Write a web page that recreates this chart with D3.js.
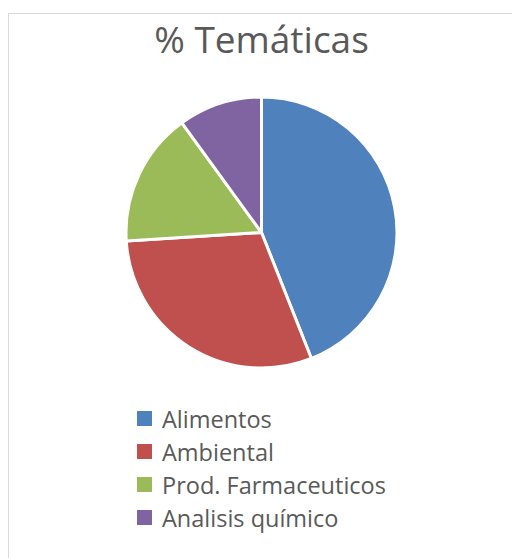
<!DOCTYPE html>
<html>
<head>
<meta charset="utf-8">
<script src="https://cdn.jsdelivr.net/npm/d3@7"></script>
<style>
  body { margin: 0; background: #fff; }
  svg { display: block; }
</style>
</head>
<body>
<div id="chart-area"></div>
<script>
// chart data
let categories = ["Alimentos", "Ambiental", "Prod. Farmaceuticos", "Analisis químico"];
let values = [22, 15, 8, 5];
let colors = ["#4F81BD", "#C0504D", "#9BBB59", "#8064A2"];
let title = "% Temáticas";

let width = 512, height = 558;

let svg = d3.select("#chart-area").append("svg")
    .attr("width", width)
    .attr("height", height);

// chart border
svg.append("rect")
    .attr("x", 8.5)
    .attr("y", 13.5)
    .attr("width", 520)
    .attr("height", 560)
    .attr("fill", "#fff")
    .attr("stroke", "#d9d9d9")
    .attr("stroke-width", 1);

// title
svg.append("text")
    .attr("x", 261.5)
    .attr("y", 53)
    .attr("text-anchor", "middle")
    .attr("font-family", "'Open Sans', sans-serif")
    .attr("font-size", 37)
    .attr("fill", "#595959")
    .text(title);

// pie
let cx = 261.5, cy = 232.5, radius = 135.5;

let pie = d3.pie().sort(null).value(d => d);
let arc = d3.arc().innerRadius(0).outerRadius(radius);

let g = svg.append("g")
    .attr("transform", "translate(" + cx + "," + cy + ")");

g.selectAll("path")
    .data(pie(values))
    .enter().append("path")
    .attr("d", arc)
    .attr("fill", (d, i) => colors[i])
    .attr("stroke", "#fff")
    .attr("stroke-width", 3)
    .attr("stroke-linejoin", "round");

// legend (y = text baseline)
let legendY = d3.scalePoint()
    .domain(categories)
    .range([428, 527]);

let legend = svg.selectAll(".legend")
    .data(categories)
    .enter().append("g")
    .attr("class", "legend")
    .attr("transform", d => "translate(137," + legendY(d) + ")");

legend.append("rect")
    .attr("x", 0)
    .attr("y", -17)
    .attr("width", 15)
    .attr("height", 15)
    .attr("fill", (d, i) => colors[i]);

legend.append("text")
    .attr("x", 25)
    .attr("y", 0)
    .attr("font-family", "'Open Sans', sans-serif")
    .attr("font-size", 23.5)
    .attr("fill", "#595959")
    .text(d => d);
</script>
</body>
</html>
